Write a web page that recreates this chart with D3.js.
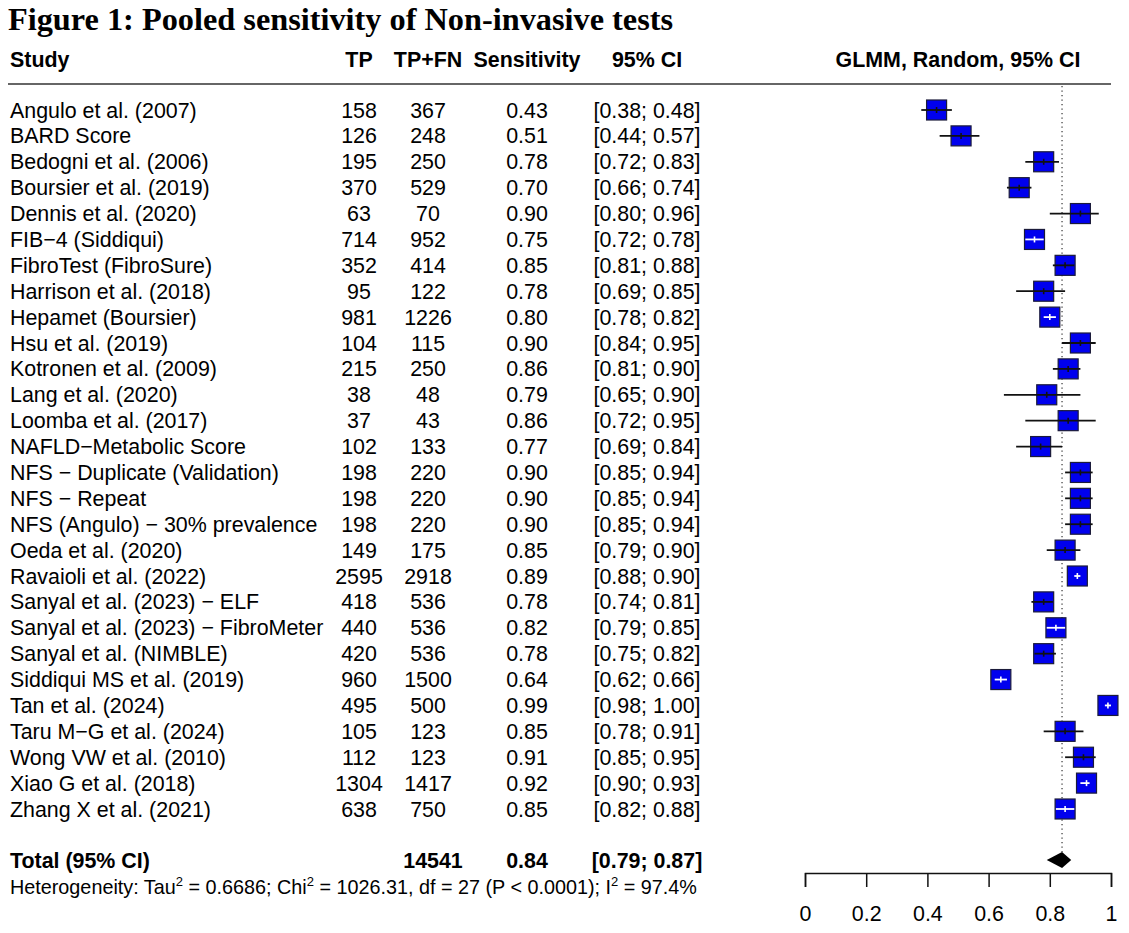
<!DOCTYPE html>
<html>
<head>
<meta charset="utf-8">
<script src="https://cdn.jsdelivr.net/npm/d3@7"></script>
<style>
  body { margin: 0; background: #fff; }
  svg text { font-family: Arial, "Liberation Sans", sans-serif; fill: #000; }
</style>
</head>
<body>
<div id="chart"></div>
<script>
// Datos del forest plot
const studies = ["Angulo et al. (2007)", "BARD Score", "Bedogni et al. (2006)", "Boursier et al. (2019)",
  "Dennis et al. (2020)", "FIB\u22124 (Siddiqui)", "FibroTest (FibroSure)", "Harrison et al. (2018)",
  "Hepamet (Boursier)", "Hsu et al. (2019)", "Kotronen et al. (2009)", "Lang et al. (2020)",
  "Loomba et al. (2017)", "NAFLD\u2212Metabolic Score", "NFS \u2212 Duplicate (Validation)", "NFS \u2212 Repeat",
  "NFS (Angulo) \u2212 30% prevalence", "Oeda et al. (2020)", "Ravaioli et al. (2022)", "Sanyal et al. (2023) \u2212 ELF",
  "Sanyal et al. (2023) \u2212 FibroMeter", "Sanyal et al. (NIMBLE)", "Siddiqui MS et al. (2019)", "Tan et al. (2024)",
  "Taru M\u2212G et al. (2024)", "Wong VW et al. (2010)", "Xiao G et al. (2018)", "Zhang X et al. (2021)"];
const tp = [158, 126, 195, 370, 63, 714, 352, 95, 981, 104, 215, 38, 37, 102, 198, 198, 198, 149, 2595, 418, 440, 420, 960, 495, 105, 112, 1304, 638];
const tpfn = [367, 248, 250, 529, 70, 952, 414, 122, 1226, 115, 250, 48, 43, 133, 220, 220, 220, 175, 2918, 536, 536, 536, 1500, 500, 123, 123, 1417, 750];
const sens = [0.43, 0.51, 0.78, 0.70, 0.90, 0.75, 0.85, 0.78, 0.80, 0.90, 0.86, 0.79, 0.86, 0.77, 0.90, 0.90, 0.90, 0.85, 0.89, 0.78, 0.82, 0.78, 0.64, 0.99, 0.85, 0.91, 0.92, 0.85];
const lower = [0.38, 0.44, 0.72, 0.66, 0.80, 0.72, 0.81, 0.69, 0.78, 0.84, 0.81, 0.65, 0.72, 0.69, 0.85, 0.85, 0.85, 0.79, 0.88, 0.74, 0.79, 0.75, 0.62, 0.98, 0.78, 0.85, 0.90, 0.82];
const upper = [0.48, 0.57, 0.83, 0.74, 0.96, 0.78, 0.88, 0.85, 0.82, 0.95, 0.90, 0.90, 0.95, 0.84, 0.94, 0.94, 0.94, 0.90, 0.90, 0.81, 0.85, 0.82, 0.66, 1.00, 0.91, 0.95, 0.93, 0.88];
const pooled = {total: 14541, est: 0.84, lo: 0.79, hi: 0.87};
const axisTicks = [0, 0.2, 0.4, 0.6, 0.8, 1];

const W = 1129, H = 933;
const svg = d3.select('#chart').append('svg').attr('width', W).attr('height', H);

//Título
svg.append('text')
  .attr('x', 8).attr('y', 30)
  .style('font-family', '"Liberation Serif", "Times New Roman", serif')
  .style('font-weight', 'bold').style('font-size', '32.3px')
  .text('Figure 1: Pooled sensitivity of Non-invasive tests');

//Columnas
const col = {study: 10, tp: 359, tpfn: 428, sens: 527, ci: 647, plot: 958};
const fs = '21.4px';

const header = svg.append('g').style('font-weight', 'bold').style('font-size', fs);
[['Study', col.study, 'start'], ['TP', col.tp, 'middle'], ['TP+FN', col.tpfn, 'middle'],
 ['Sensitivity', col.sens, 'middle'], ['95% CI', col.ci, 'middle'], ['GLMM, Random, 95% CI', col.plot, 'middle']]
  .forEach(function(h) {
    header.append('text').attr('x', h[1]).attr('y', 66.5).attr('text-anchor', h[2]).text(h[0]);
  });

svg.append('line').attr('x1', 8).attr('x2', 1111).attr('y1', 84).attr('y2', 84)
  .attr('stroke', '#333').attr('stroke-width', 1.5);

//Escalas
const x = d3.scaleLinear().domain([0, 1]).range([805, 1111]);
const y = d3.scaleLinear().domain([0, studies.length - 1]).range([110, 809]);
const yTotal = 860;

//Línea de referencia punteada
svg.append('line')
  .attr('x1', x(pooled.est)).attr('x2', x(pooled.est))
  .attr('y1', 86).attr('y2', yTotal - 8)
  .attr('stroke', '#444').attr('stroke-width', 1.3).attr('stroke-dasharray', '1.3,3.2');

//Filas de texto
const rows = svg.append('g').style('font-size', fs);
const fmt = d3.format('.2f');
studies.forEach(function(s, i) {
  let yy = y(i) + 7.5;
  rows.append('text').attr('x', col.study).attr('y', yy).text(s);
  rows.append('text').attr('x', col.tp).attr('y', yy).attr('text-anchor', 'middle').text(tp[i]);
  rows.append('text').attr('x', col.tpfn).attr('y', yy).attr('text-anchor', 'middle').text(tpfn[i]);
  rows.append('text').attr('x', col.sens).attr('y', yy).attr('text-anchor', 'middle').text(fmt(sens[i]));
  rows.append('text').attr('x', col.ci).attr('y', yy).attr('text-anchor', 'middle')
    .text('[' + fmt(lower[i]) + '; ' + fmt(upper[i]) + ']');
});

//Marcas del forest plot
const box = 20;
const marks = svg.append('g');
studies.forEach(function(s, i) {
  let cx = x(sens[i]), cy = y(i);
  let inside = x(lower[i]) >= cx - box / 2 && x(upper[i]) <= cx + box / 2;
  let c = inside ? '#fff' : '#111';
  marks.append('rect')
    .attr('x', cx - box / 2).attr('y', cy - box / 2)
    .attr('width', box).attr('height', box)
    .attr('fill', '#0000ee').attr('stroke', '#1b1b3a').attr('stroke-width', 1.2);
  marks.append('line')
    .attr('x1', x(lower[i])).attr('x2', x(upper[i]))
    .attr('y1', cy).attr('y2', cy)
    .attr('stroke', c).attr('stroke-width', 1.8);
  marks.append('line').attr('x1', cx).attr('x2', cx).attr('y1', cy - 3).attr('y2', cy + 3)
    .attr('stroke', c).attr('stroke-width', 1.6);
});

//Fila total
const tot = svg.append('g').style('font-size', fs).style('font-weight', 'bold');
tot.append('text').attr('x', col.study).attr('y', yTotal + 7.5).text('Total (95% CI)');
tot.append('text').attr('x', 433).attr('y', yTotal + 7.5).attr('text-anchor', 'middle').text(pooled.total);
tot.append('text').attr('x', col.sens).attr('y', yTotal + 7.5).attr('text-anchor', 'middle').text(fmt(pooled.est));
tot.append('text').attr('x', col.ci).attr('y', yTotal + 7.5).attr('text-anchor', 'middle')
  .text('[' + fmt(pooled.lo) + '; ' + fmt(pooled.hi) + ']');

svg.append('path')
  .attr('d', d3.line()([[x(pooled.lo), yTotal], [x(pooled.est), yTotal - 8], [x(pooled.hi), yTotal], [x(pooled.est), yTotal + 8]]) + 'Z')
  .attr('fill', '#000');

//Heterogeneidad
const het = svg.append('text').attr('x', 10).attr('y', 894).style('font-size', '19.8px');
const sup = function(t) { het.append('tspan').attr('dy', -8).style('font-size', '13px').text(t); };
const norm = function(t) { het.append('tspan').attr('dy', 8).text(t); };
het.append('tspan').text('Heterogeneity: Tau');
sup('2'); norm(' = 0.6686; Chi');
sup('2'); norm(' = 1026.31, df = 27 (P < 0.0001); I');
sup('2'); norm(' = 97.4%');

//Eje X
const xAxis = d3.axisBottom(x).tickValues(axisTicks).tickSize(14).tickSizeOuter(14).tickPadding(19)
  .tickFormat(function(d) { return d === 0 || d === 1 ? d : d3.format('.1f')(d); });
const gx = svg.append('g').attr('transform', 'translate(0,873)').call(xAxis);
gx.select('.domain').attr('stroke', '#111').attr('stroke-width', 1.5);
gx.selectAll('.tick line').attr('stroke', '#111').attr('stroke-width', 1.5);
gx.selectAll('.tick text').style('font-size', '21.4px').style('font-family', 'Arial, "Liberation Sans", sans-serif').attr('fill', '#000');
</script>
</body>
</html>
